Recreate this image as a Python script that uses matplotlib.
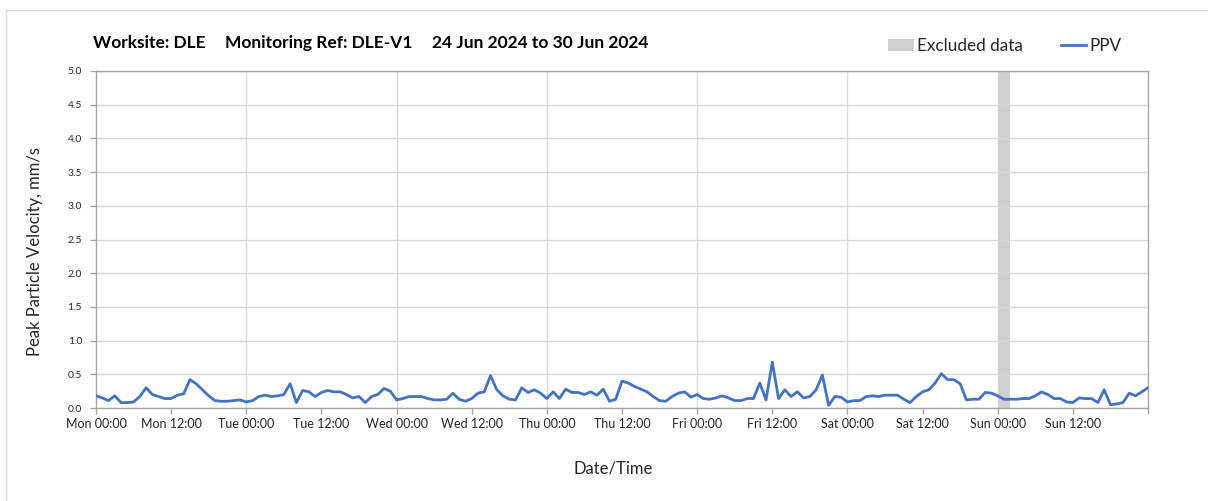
import numpy as np
import pandas as pd
import matplotlib
matplotlib.use('Agg')
import matplotlib.pyplot as plt
import matplotlib.dates as mdates
from matplotlib.patches import Patch
from matplotlib.lines import Line2D

plt.rcParams['font.family'] = ['Lato', 'DejaVu Sans']

# hourly PPV readings, Mon 24 Jun 00:00 -> Mon 1 Jul 00:00
ppv = [0.18, 0.15, 0.11, 0.18, 0.08, 0.08, 0.09, 0.17, 0.30, 0.20, 0.17, 0.14,
       0.14, 0.19, 0.21, 0.42, 0.36, 0.27, 0.18, 0.11, 0.10, 0.10, 0.11, 0.12,
       0.09, 0.11, 0.17, 0.19, 0.17, 0.18, 0.20, 0.36, 0.08, 0.26,
       0.24, 0.17, 0.23, 0.26, 0.24, 0.24, 0.20, 0.15, 0.17, 0.08, 0.17, 0.20,
       0.29, 0.25, 0.12, 0.14, 0.17, 0.17, 0.17, 0.14, 0.12, 0.12, 0.13, 0.22,
       0.13, 0.10, 0.14, 0.22, 0.24, 0.48, 0.27, 0.18, 0.13, 0.12,
       0.30, 0.23, 0.27, 0.22, 0.14, 0.24, 0.14, 0.28, 0.23, 0.23, 0.20, 0.24,
       0.19, 0.28, 0.10, 0.13, 0.40, 0.37, 0.32, 0.28, 0.24, 0.17, 0.11, 0.10,
       0.17, 0.22, 0.24, 0.16, 0.20, 0.14, 0.13, 0.15, 0.18, 0.15,
       0.11, 0.11, 0.14, 0.14, 0.37, 0.12, 0.68, 0.14, 0.27, 0.17, 0.24, 0.15,
       0.17, 0.27, 0.49, 0.04, 0.17, 0.16, 0.09, 0.11, 0.11, 0.17, 0.18, 0.17,
       0.19, 0.19, 0.19, 0.13, 0.08, 0.17, 0.24, 0.27, 0.37, 0.51,
       0.42, 0.42, 0.36, 0.12, 0.13, 0.13, 0.23, 0.22, 0.18, 0.13, 0.13, 0.13,
       0.14, 0.14, 0.18, 0.24, 0.20, 0.14, 0.14, 0.09, 0.08, 0.15, 0.14, 0.14,
       0.08, 0.27, 0.05, 0.06, 0.08, 0.22, 0.18, 0.24, 0.30]
times = pd.date_range('2024-06-24 00:00', periods=len(ppv), freq='h')

excl_start = pd.Timestamp('2024-06-30 00:00')
excl_end = pd.Timestamp('2024-06-30 02:00')
x_start = pd.Timestamp('2024-06-24 00:00')
x_end = pd.Timestamp('2024-07-01 00:00')

title_parts = ['Worksite: DLE', 'Monitoring Ref: DLE-V1', '24 Jun 2024 to 30 Jun 2024']

fig = plt.figure(figsize=(12.08, 5.01), dpi=100)
ax = fig.add_axes([96/1208, 93/501, 1052/1208, 337/501])

grid_c = '#d9d9d9'
spine_c = '#a6a6a6'
txt_c = '#262626'

ax.axvspan(excl_start, excl_end, color='#d0d0d0', lw=0, zorder=1)
ax.plot(times, ppv, color='#4472c4', lw=2.0, zorder=3)

ax.set_xlim(x_start, x_end)
ax.set_ylim(0, 5)
ax.set_yticks(np.arange(0, 5.01, 0.5))
ax.yaxis.set_major_formatter(plt.FormatStrFormatter('%.1f'))

ax.xaxis.set_major_locator(mdates.HourLocator(byhour=[0, 12]))
ticks = ax.get_xticks()
labels = [mdates.num2date(t).strftime('%a %H:%M') for t in ticks]
labels[-1] = ''
ax.set_xticks(ticks)
ax.set_xticklabels(labels)

ax.grid(axis='y', color=grid_c, lw=1.0, zorder=0)
for d in pd.date_range('2024-06-25', '2024-06-30', freq='D'):
    ax.axvline(d, color=grid_c, lw=1.0, zorder=0)

for s in ax.spines.values():
    s.set_color(spine_c)
    s.set_linewidth(1.0)
ax.tick_params(axis='both', colors=spine_c, length=4, width=1.0)
ax.tick_params(axis='x', labelsize=9, labelcolor=txt_c, pad=3)
ax.tick_params(axis='y', labelsize=7.5, labelcolor=txt_c, pad=6)

ax.set_ylabel('Peak Particle Velocity, mm/s', fontsize=12, color=txt_c)
ax.yaxis.set_label_coords(-53/1052, 0.465)
ax.set_xlabel('Date/Time', fontsize=12, color=txt_c)
ax.xaxis.set_label_coords(0.492, -52/337)

for xp, part in zip([93, 225, 432], title_parts):
    fig.text(xp/1208, 1 - 43/501, part, fontsize=12.5, fontweight='bold',
             va='center', ha='left', color='black')

handles = [Patch(facecolor='#d0d0d0', edgecolor='none'),
           Line2D([], [], color='#4472c4', lw=2.0)]
fig.legend(handles, ['Excluded data', 'PPV'], loc='center left',
           bbox_to_anchor=(888/1208, 1 - 46/501), ncol=2, frameon=False,
           fontsize=12.3, handlelength=1.5, handleheight=0.75, handletextpad=0.2,
           columnspacing=2.2, borderpad=0, borderaxespad=0, labelcolor=txt_c)

# faint frame around chart area
fig.add_artist(Line2D([6/1208, 6/1208], [0, 1 - 10/501], color='#d9d9d9', lw=1.0))
fig.add_artist(Line2D([6/1208, 1], [1 - 10/501, 1 - 10/501], color='#d9d9d9', lw=1.0))

fig.savefig('out.png', dpi=100)
